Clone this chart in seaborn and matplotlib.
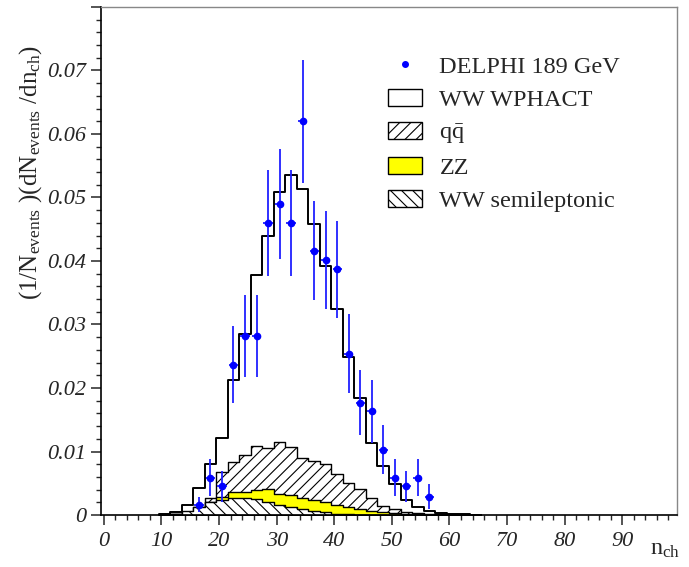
import numpy as np
import pandas as pd
import matplotlib
matplotlib.use("Agg")
import matplotlib.pyplot as plt
import seaborn as sns
from matplotlib.patches import Patch
from matplotlib.lines import Line2D
from matplotlib.ticker import MultipleLocator, FuncFormatter

# ---------------- data ----------------
bin_width = 2.0
bin_centers = [10.5, 12.5, 14.5, 16.5, 18.5, 20.5, 22.5, 24.5, 26.5, 28.5,
               30.5, 32.5, 34.5, 36.5, 38.5, 40.5, 42.5, 44.5, 46.5, 48.5,
               50.5, 52.5, 54.5, 56.5, 58.5, 60.5, 62.5, 64.5]
ww_wphact = [0.0002, 0.0005, 0.0015, 0.0043, 0.0080, 0.0122, 0.0212, 0.0285, 0.0378, 0.0440,
             0.0508, 0.0535, 0.0513, 0.0458, 0.0392, 0.0325, 0.0249, 0.0185, 0.0113, 0.0077,
             0.0049, 0.0024, 0.0012, 0.0006, 0.0003, 0.0002, 0.0001, 0.00005]
qqbar = [0.0001, 0.0002, 0.0005, 0.0013, 0.0026, 0.0068, 0.0084, 0.0095, 0.0108, 0.0106,
         0.0115, 0.0107, 0.0090, 0.0085, 0.0080, 0.0064, 0.0050, 0.0041, 0.0026, 0.0014,
         0.0009, 0.0004, 0.0003, 0.0002, 0.0001, 0.0001, 0.00005, 0.0]
zz = [0.0, 0.0001, 0.0003, 0.0007, 0.0021, 0.0029, 0.0037, 0.0037, 0.0040, 0.0041,
      0.0033, 0.0031, 0.0027, 0.0024, 0.0020, 0.0016, 0.0012, 0.0009, 0.0006, 0.0004,
      0.0003, 0.0002, 0.0001, 0.0, 0.0, 0.0, 0.0, 0.0]
ww_semilep = [0.0001, 0.0002, 0.0006, 0.0012, 0.0020, 0.0024, 0.0026, 0.0026, 0.0025, 0.0021,
              0.0016, 0.0012, 0.0009, 0.0006, 0.0004, 0.0002, 0.0001, 0.0, 0.0, 0.0,
              0.0, 0.0, 0.0, 0.0, 0.0, 0.0, 0.0, 0.0]

data_nch = [16.5, 18.5, 20.5, 22.5, 24.5, 26.5, 28.5, 30.5, 32.5, 34.5, 36.5,
            38.5, 40.5, 42.5, 44.5, 46.5, 48.5, 50.5, 52.5, 54.5, 56.5]
data_val = [0.0016, 0.0059, 0.0045, 0.0237, 0.0282, 0.0282, 0.0460, 0.0490, 0.0460, 0.0620, 0.0416,
            0.0402, 0.0387, 0.0254, 0.0177, 0.0163, 0.0103, 0.0059, 0.0045, 0.0059, 0.0029]
data_err = [0.0012, 0.0029, 0.0025, 0.0060, 0.0065, 0.0065, 0.0083, 0.0087, 0.0083, 0.0097, 0.0078,
            0.0077, 0.0076, 0.0062, 0.0051, 0.0050, 0.0039, 0.0029, 0.0025, 0.0029, 0.0020]

legend_labels = ["DELPHI 189 GeV", "WW WPHACT", r"q$\bar{\mathrm{q}}$", "ZZ", "WW semileptonic"]
ylabel = r"(1/N$_{\mathrm{events}}$ )(dN$_{\mathrm{events}}$ /dn$_{\mathrm{ch}}$)"
xlabel = r"n$_{\mathrm{ch}}$"

# ---------------- style ----------------
sns.set_style("ticks")
plt.rcParams["font.family"] = ["Liberation Serif", "DejaVu Serif"]
plt.rcParams["mathtext.fontset"] = "custom"
plt.rcParams["mathtext.rm"] = "Liberation Serif"
plt.rcParams["mathtext.it"] = "Liberation Serif:italic"
plt.rcParams["hatch.linewidth"] = 0.8

fig = plt.figure(figsize=(6.89, 5.67), dpi=100)
ax = fig.add_axes([0.1466, 0.0917, 0.836, 0.896])

edges = [c - bin_width / 2 for c in bin_centers] + [bin_centers[-1] + bin_width / 2]


def draw_hist(values, **kw):
    df = pd.DataFrame({"nch": bin_centers, "w": values})
    sns.histplot(data=df, x="nch", weights="w", bins=edges, element="step",
                 fill=True, ax=ax, alpha=1, **kw)


draw_hist(ww_wphact, facecolor="white", edgecolor="black", linewidth=1.4)
draw_hist(qqbar, facecolor="white", edgecolor="black", hatch="///", linewidth=1.0)
draw_hist(zz, facecolor="#ffff00", edgecolor="black", linewidth=1.0)
draw_hist(ww_semilep, facecolor="white", edgecolor="black", hatch="\\\\\\", linewidth=1.0)

ax.errorbar(data_nch, data_val, yerr=data_err, xerr=0.8, fmt="o", color="#0000ff",
            ecolor="#2020ff", ms=4.5, elinewidth=1.3, capsize=0, zorder=5)

ax.set_xlim(-0.5, 99.5)
ax.set_ylim(0, 0.08)
ax.set_xlabel("")
ax.set_ylabel("")

ax.xaxis.set_major_locator(MultipleLocator(10))
ax.xaxis.set_minor_locator(MultipleLocator(2))
ax.yaxis.set_major_locator(MultipleLocator(0.01))
ax.yaxis.set_minor_locator(MultipleLocator(0.002))
ax.yaxis.set_major_formatter(FuncFormatter(
    lambda v, p: "0" if abs(v) < 1e-9 else ("" if v > 0.0795 else f"{v:.2f}")))
ax.xaxis.set_major_formatter(FuncFormatter(lambda v, p: f"{v:.0f}"))

ax.tick_params(which="major", direction="out", length=7, width=1.1, labelsize=16,
               top=False, right=False)
ax.tick_params(axis="x", which="major", pad=5.5)
ax.tick_params(which="minor", direction="out", length=3.5, width=1.0, top=False, right=False)
for lbl in ax.get_xticklabels() + ax.get_yticklabels():
    lbl.set_fontstyle("italic")

for s in ["left", "bottom"]:
    ax.spines[s].set_color("black")
    ax.spines[s].set_linewidth(1.2)
for s in ["top", "right"]:
    ax.spines[s].set_color("#888888")
    ax.spines[s].set_linewidth(1.0)

handles = [
    Line2D([], [], marker="o", color="#0000ff", linestyle="none", markersize=4),
    Patch(facecolor="white", edgecolor="black", linewidth=1.0),
    Patch(facecolor="white", edgecolor="black", hatch="///", linewidth=1.0),
    Patch(facecolor="#ffff00", edgecolor="black", linewidth=1.0),
    Patch(facecolor="white", edgecolor="black", hatch="\\\\\\", linewidth=1.0),
]
ax.legend(handles, legend_labels, loc="upper left", bbox_to_anchor=(0.563, 0.902),
          bbox_transform=fig.transFigure, frameon=False, prop={"size": 17.5},
          handlelength=1.4, handleheight=0.72, handletextpad=0.72,
          labelspacing=0.45, borderpad=0, borderaxespad=0)

fig.text(0.045, 0.921, ylabel, rotation=90, ha="center", va="top", fontsize=18)
fig.text(0.987, 0.012, xlabel, ha="right", va="bottom", fontsize=17.5)

fig.savefig("out.png", dpi=100)
